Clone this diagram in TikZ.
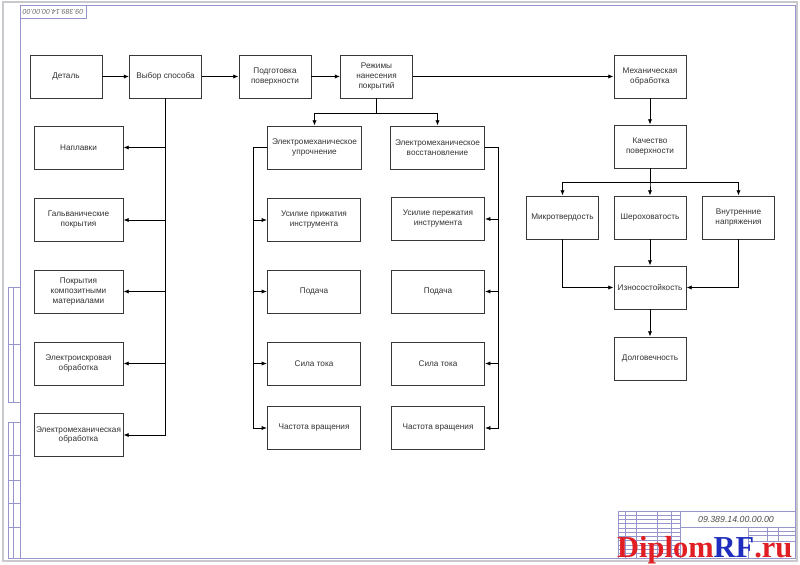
\documentclass[tikz,border=0pt]{standalone}
\usepackage{fontspec}
\setmainfont{Liberation Sans}
\newfontfamily\wmfont{Liberation Serif}
\usetikzlibrary{arrows.meta}

\definecolor{framec}{RGB}{150,150,205}
\definecolor{edgec}{RGB}{200,200,205}
\definecolor{boxc}{RGB}{55,55,55}
\definecolor{wmred}{RGB}{225,30,35}
\definecolor{wmblue}{RGB}{30,45,190}

\begin{document}
\begin{tikzpicture}[x=0.03cm, y=-0.03cm,
    >={Latex[length=4.5pt,width=3.6pt]},
    box/.style={draw=boxc, line width=0.8pt, minimum width=2.16cm, minimum height=1.29cm,
        inner sep=1pt, align=center, text=black!80, font=\fontsize{7}{8.5}\selectfont},
    lbox/.style={box, minimum width=2.67cm},
    mbox/.style={box, minimum width=2.8cm},
    link/.style={->, line width=0.7pt},
    sheet/.style={draw=framec, line width=0.7pt}]
    \useasboundingbox (0,0) rectangle (800,565);
    \fill[white] (0,0) rectangle (800,565);

    % sheet frame
    \draw[edgec, line width=1.2pt] (3,2) rectangle (797,561);
    \draw[sheet] (20,5) rectangle (795,558);
    \draw[sheet] (20,5) rectangle (86,18);
    \node[rotate=180, text=black!60, font=\fontsize{6}{6}\selectfont\itshape] (code) at (53,11.5) {09.389.14.00.00.00};
    \draw[sheet] (8,287) rectangle (20,402);
    \draw[sheet] (8,344) -- (20,344) (13,287) -- (13,402);
    \draw[sheet] (8,422) rectangle (20,558);
    \foreach \y in {455,480,503,527} \draw[sheet] (8,\y) -- (20,\y);
    \draw[sheet] (13,422) -- (13,558);

    % title block
    \draw[sheet] (618,511) rectangle (795,558);
    \foreach \x in {625,636,657,671,680} \draw[sheet] (\x,511) -- (\x,558);
    \foreach \k in {1,...,10} \draw[sheet] (618,{511+4.27*\k}) -- (680,{511+4.27*\k});
    \draw[sheet] (680,527) -- (795,527);
    \draw[sheet] (748,527) -- (748,558);
    \draw[sheet] (767,527) -- (767,541) (778,527) -- (778,541);
    \draw[sheet] (748,531) -- (795,531) (748,535) -- (795,535) (748,541) -- (795,541);
    \node[text=black!70, font=\fontsize{7.5}{7.5}\selectfont\itshape] (des) at (736,519) {09.389.14.00.00.00};

    % top row
    \node[box] (det) at (66,76.5) {Деталь};
    \node[box] (vyb) at (165.5,76.5) {Выбор способа};
    \node[box] (podg) at (275,76.5) {Подготовка\\поверхности};
    \node[box] (rezh) at (376.5,76.5) {Режимы\\нанесения\\покрытий};
    \node[box] (mech) at (650,76.5) {Механическая\\обработка};

    % methods
    \node[lbox] (napl) at (78.5,147.5) {Наплавки};
    \node[lbox] (galv) at (78.5,220) {Гальванические\\покрытия};
    \node[lbox] (komp) at (78.5,291.5) {Покрытия\\композитными\\материалами};
    \node[lbox] (eisk) at (78.5,363.5) {Электроискровая\\обработка};
    \node[lbox] (emo) at (78.5,435) {Электромеханическая\\обработка};

    % modes
    \node[mbox] (upr) at (314.5,147.5) {Электромеханическое\\упрочнение};
    \node[mbox] (vos) at (437.5,147.5) {Электромеханическое\\восстановление};
    \node[mbox] (usl1) at (314,220) {Усилие прижатия\\инструмента};
    \node[mbox] (pod1) at (314,291.5) {Подача};
    \node[mbox] (tok1) at (314,363.5) {Сила тока};
    \node[mbox] (vr1) at (314,428) {Частота вращения};
    \node[mbox] (usl2) at (438,219) {Усилие пережатия\\инструмента};
    \node[mbox] (pod2) at (438,291.5) {Подача};
    \node[mbox] (tok2) at (438,363.5) {Сила тока};
    \node[mbox] (vr2) at (438,428) {Частота вращения};

    % quality
    \node[box] (kach) at (650,146.5) {Качество\\поверхности};
    \node[box] (mikro) at (562.5,217.5) {Микротвердость};
    \node[box] (sher) at (650,217.5) {Шероховатость};
    \node[box] (vnut) at (738.5,217.5) {Внутренние\\напряжения};
    \node[box] (izn) at (650,287.5) {Износостойкость};
    \node[box] (dolg) at (650,358.5) {Долговечность};

    % connectors
    \draw[link] (det) -- (vyb);
    \draw[link] (vyb) -- (podg);
    \draw[link] (podg) -- (rezh);
    \draw[link] (rezh) -- (mech);
    \foreach \n in {napl,galv,komp,eisk,emo}
        \draw[link] (vyb.south) |- (\n.east);
    \draw[link] (rezh.south) -- ++(0,15) -| (upr.north);
    \draw[link] (rezh.south) -- ++(0,15) -| (vos.north);
    \foreach \n in {usl1,pod1,tok1,vr1}
        \draw[link] (upr.west) -- ++(-13.5,0) |- (\n.west);
    \foreach \n in {usl2,pod2,tok2,vr2}
        \draw[link] (vos.east) -- ++(14,0) |- (\n.east);
    \draw[link] (mech) -- (kach);
    \foreach \n in {mikro,sher,vnut}
        \draw[link] (kach.south) -- ++(0,14) -| (\n.north);
    \draw[link] (mikro.south) |- (izn.west);
    \draw[link] (vnut.south) |- (izn.east);
    \draw[link] (sher) -- (izn);
    \draw[link] (izn) -- (dolg);

    % watermark
    \node[anchor=base west, inner sep=0pt, font=\wmfont\bfseries\fontsize{26}{26}\selectfont] (wm) at (617,557)
        {\textcolor{wmred}{Diplom}\textcolor{wmblue}{RF}\textcolor{wmred}{.ru}};
\end{tikzpicture}
\end{document}
